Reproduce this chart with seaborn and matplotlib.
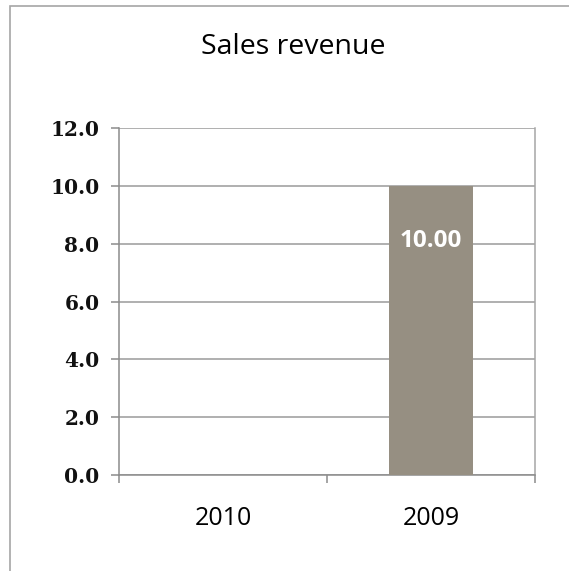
import matplotlib
matplotlib.use("Agg")
import matplotlib.pyplot as plt
from matplotlib.patches import Rectangle
import seaborn as sns
import pandas as pd

# Chart data
years = ["2010", "2009"]
revenue = [0.0, 10.00]
y_ticks = [0, 2, 4, 6, 8, 10, 12]
title = "Sales revenue"

sns.set_theme(style="white")
plt.rcParams["font.family"] = ["DejaVu Sans"]

df = pd.DataFrame({"year": years, "revenue": revenue})

fig = plt.figure(figsize=(5.69, 5.71), dpi=100)
fig.patch.set_facecolor("white")

# outer chart frame (top and left edges visible)
fig.add_artist(Rectangle((10 / 569, -0.05), 1.2, (571 - 6) / 571 + 0.05,
                         transform=fig.transFigure, fill=False,
                         edgecolor="#a6a6a6", linewidth=1.2))

ax = fig.add_axes([119 / 569, (571 - 475) / 571, (535 - 119) / 569, (475 - 128) / 571])

bar_color = "#968f82"
sns.barplot(data=df, x="year", y="revenue", order=years, color=bar_color,
            saturation=1, width=0.4, ax=ax, zorder=3)
for p in ax.patches:
    p.set_edgecolor("none")

ax.set_ylim(0, 12)
ax.set_xlim(-0.5, 1.5)
ax.set_yticks(y_ticks)
ax.set_yticklabels([f"{v:.1f}" for v in y_ticks], family="DejaVu Serif",
                   fontweight="bold", fontsize=14.5, color="#111111")
ax.set_xlabel("")
ax.set_ylabel("")
ax.yaxis.grid(True, color="#9a9a9a", linewidth=1.1, zorder=0)
ax.set_axisbelow(True)

# category boundary ticks on the x axis
ax.set_xticks([-0.5, 0.5, 1.5], minor=False)
ax.set_xticklabels([])
ax.set_xticks([0, 1], minor=True)
ax.set_xticklabels(years, minor=True, family="Open Sans", fontsize=18,
                   color="#000000")
ax.tick_params(axis="x", which="minor", length=0, pad=22)
ax.tick_params(axis="x", which="major", length=6, width=1.1, color="#8c8c8c",
               direction="out", bottom=True)
ax.tick_params(axis="y", length=6, width=1.1, color="#8c8c8c",
               direction="out", left=True, pad=8)

for side in ["left", "bottom", "right"]:
    ax.spines[side].set_visible(True)
    ax.spines[side].set_color("#8c8c8c")
    ax.spines[side].set_linewidth(1.1)
ax.spines["right"].set_color("#a6a6a6")
ax.spines["top"].set_visible(False)

# value label at the inside end of each bar
for i, v in enumerate(revenue):
    if v > 0:
        ax.annotate(f"{v:.2f}", xy=(i, v), xytext=(0, -40),
                    textcoords="offset points", ha="center", va="center",
                    color="white", fontweight="bold", family="Open Sans",
                    fontsize=17.5, zorder=5)

fig.text(293 / 569, 1 - 47 / 571, title, ha="center", va="center",
         family="Open Sans", fontsize=20.5, color="#000000")

fig.savefig("out.png", dpi=100, facecolor="white")
